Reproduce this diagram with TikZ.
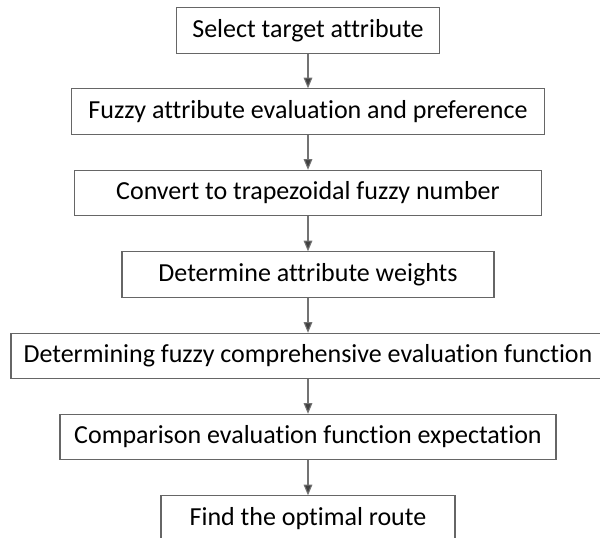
\documentclass[tikz,border=0pt]{standalone}
\usepackage{fontspec}
\setmainfont{Carlito}[Ligatures={NoCommon}]
\usetikzlibrary{arrows.meta}

\begin{document}
\begin{tikzpicture}[x=0.75pt, y=-0.75pt,
    stepbox/.style={draw=black!60, line width=0.8pt, minimum height=34pt, inner sep=0pt,
        font=\fontsize{19.5}{23}\selectfont},
    flow/.style={draw=black!55, line width=0.8pt, -{Triangle[length=8pt, width=6.5pt, fill=black!75]}}]
            \useasboundingbox (0,0) rectangle (600,538);
            \node [stepbox, minimum width=197pt] (select) at (308,30.5) {Select target attribute};
            \node [stepbox, minimum width=355pt] (fuzzy) at (308,111.5) {Fuzzy attribute evaluation and preference};
            \node [stepbox, minimum width=350pt] (convert) at (308,193) {Convert to trapezoidal fuzzy number};
            \node [stepbox, minimum width=279pt] (weights) at (308,274.5) {Determine attribute weights};
            \node [stepbox, minimum width=445.5pt] (function) at (308,356) {Determining fuzzy comprehensive evaluation function};
            \node [stepbox, minimum width=372pt] (compare) at (308,437) {Comparison evaluation function expectation};
            \node [stepbox, minimum width=220.5pt] (route) at (308,518.5) {Find the optimal route};
            \draw [flow] (select) -- (fuzzy);
            \draw [flow] (fuzzy) -- (convert);
            \draw [flow] (convert) -- (weights);
            \draw [flow] (weights) -- (function);
            \draw [flow] (function) -- (compare);
            \draw [flow] (compare) -- (route);
        \end{tikzpicture}
\end{document}
